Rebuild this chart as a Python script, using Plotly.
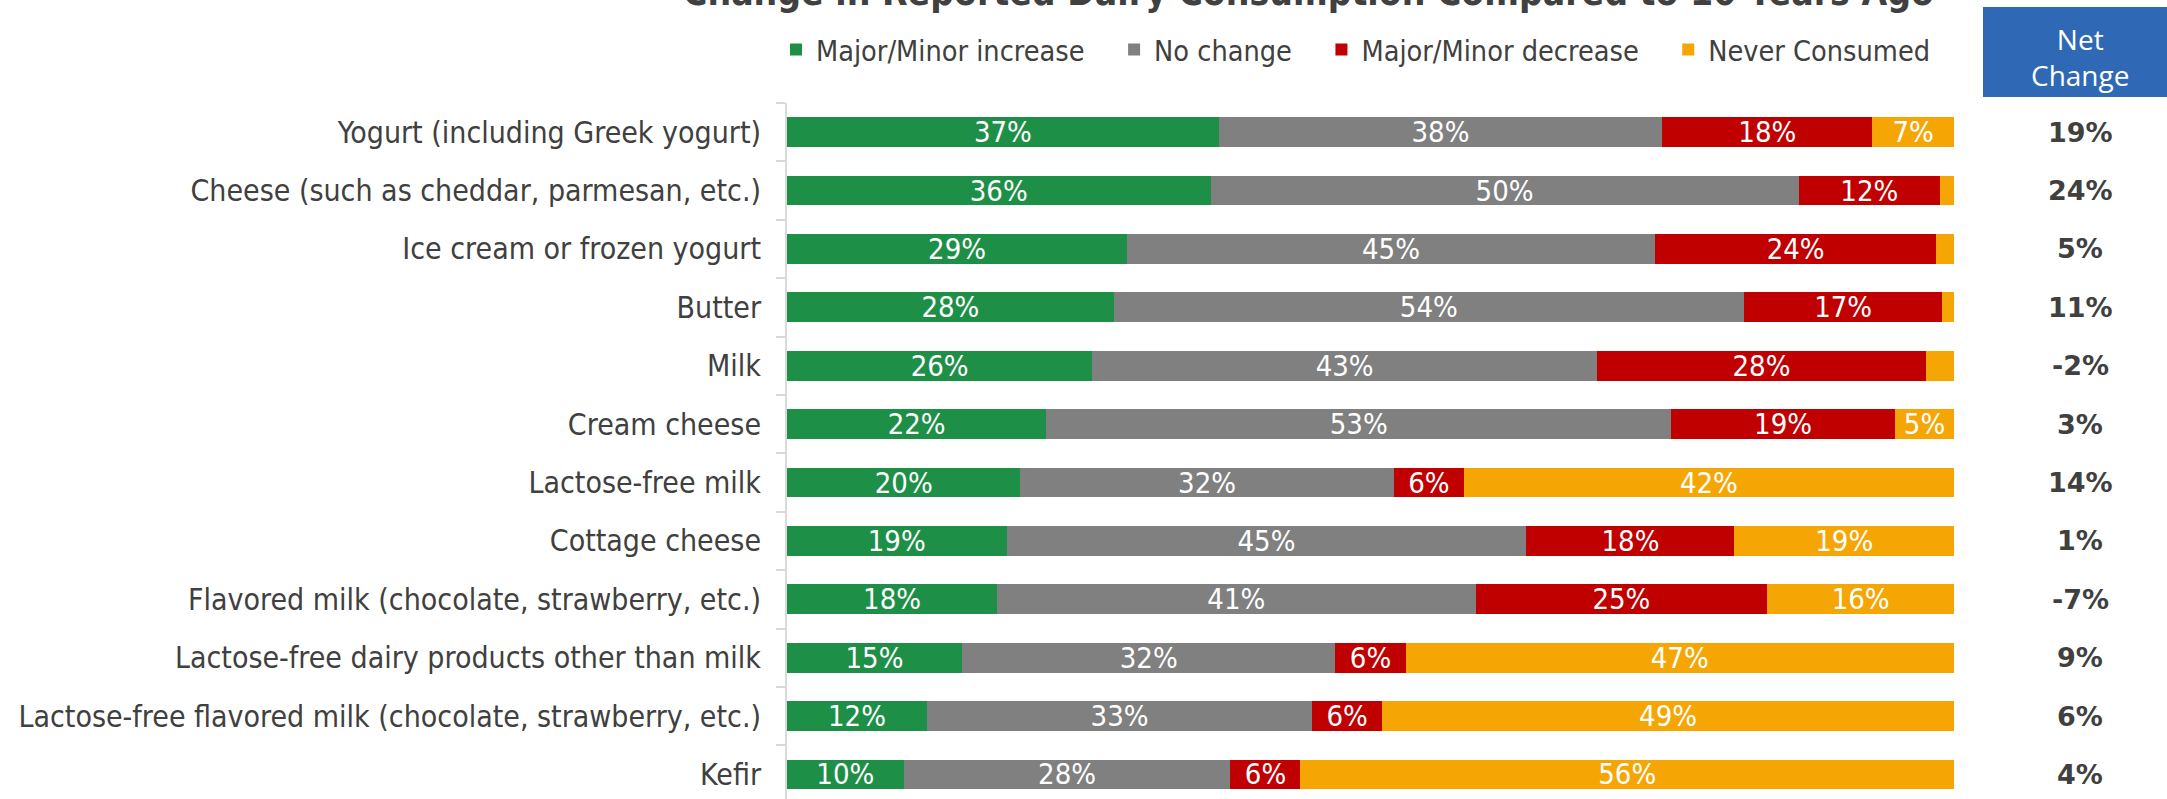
import plotly.graph_objects as go

categories = [
    "Yogurt (including Greek yogurt)",
    "Cheese (such as cheddar, parmesan, etc.)",
    "Ice cream or frozen yogurt",
    "Butter",
    "Milk",
    "Cream cheese",
    "Lactose-free milk",
    "Cottage cheese",
    "Flavored milk (chocolate, strawberry, etc.)",
    "Lactose-free dairy products other than milk",
    "Lactose-free flavored milk (chocolate, strawberry, etc.)",
    "Kefir",
]

increase = [37, 36, 29, 28, 26, 22, 20, 19, 18, 15, 12, 10]
no_change = [38, 50, 45, 54, 43, 53, 32, 45, 41, 32, 33, 28]
decrease = [18, 12, 24, 17, 28, 19, 6, 18, 25, 6, 6, 6]
never = [7, 1.2, 1.5, 1, 2.4, 5, 42, 19, 16, 47, 49, 56]
# small slivers are left unlabeled
never_labels = ["7%", "", "", "", "", "5%", "42%", "19%", "16%", "47%", "49%", "56%"]

net_change = ["19%", "24%", "5%", "11%", "-2%", "3%", "14%", "1%", "-7%", "9%", "6%", "4%"]

series_names = ["Major/Minor increase", "No change", "Major/Minor decrease", "Never Consumed"]
series_colors = ["#1E8F47", "#808080", "#C00000", "#F5A605"]

NARROW = "Liberation Sans Narrow, Arial Narrow, DejaVu Sans Condensed, sans-serif"
TEXT_GREY = "#404040"

W, H = 2167, 799
ML, MR, MT, MB = 787, 213, 103, 0
plot_w = W - ML - MR
plot_h = H - MT - MB

fig = go.Figure()
series_values = [increase, no_change, decrease, never]
for i, (name, vals, col) in enumerate(zip(series_names, series_values, series_colors)):
    labels = never_labels if i == 3 else [f"{v:g}%" for v in vals]
    fig.add_trace(go.Bar(
        y=categories,
        x=vals,
        name=name + "\u00a0\u00a0\u00a0",
        orientation="h",
        marker=dict(color=col, line=dict(width=0)),
        text=labels,
        textposition="inside",
        insidetextanchor="middle",
        textfont=dict(family=NARROW, size=29, color="white"),
        hoverinfo="skip",
    ))

# net change column to the right of the bars
for cat, nc in zip(categories, net_change):
    fig.add_annotation(
        x=1.108, xref="paper", y=cat, yref="y",
        text=f"<b>{nc}</b>", showarrow=False,
        font=dict(family="DejaVu Sans, Verdana, sans-serif", size=27, color=TEXT_GREY),
        xanchor="center", yanchor="middle",
    )

def py(px):
    """pixel row from top of page -> paper y"""
    return 1 + (MT - px) / plot_h

def pxx(px):
    return (px - ML) / plot_w

# header box above the net change column
fig.add_shape(type="rect", xref="paper", yref="paper",
              x0=pxx(1983), x1=pxx(2175), y0=py(97), y1=py(7),
              fillcolor="#2F69B5", line=dict(width=0), layer="above")
fig.add_annotation(x=pxx(2080), xref="paper", y=py(57), yref="paper",
                   text="Net<br>Change", showarrow=False,
                   font=dict(family="Open Sans, DejaVu Sans, sans-serif", size=28, color="white"),
                   xanchor="center", yanchor="middle", align="center")

# title, partly clipped by the top edge
fig.add_annotation(x=pxx(1308), xref="paper", y=py(16), yref="paper",
                   text="<b>Change in Reported Dairy Consumption Compared to 10 Years Ago</b>",
                   showarrow=False,
                   font=dict(family=NARROW, size=37, color=TEXT_GREY),
                   xanchor="center", yanchor="bottom")

fig.update_layout(
    width=W, height=H,
    margin=dict(l=ML, r=MR, t=MT, b=MB, pad=0),
    barmode="stack",
    barnorm="percent",
    bargap=0.49,
    plot_bgcolor="white",
    paper_bgcolor="white",
    uniformtext=dict(minsize=29, mode="show"),
    showlegend=True,
    legend=dict(
        orientation="h",
        x=pxx(776), xanchor="left",
        y=py(50), yanchor="middle",
        font=dict(family=NARROW, size=28.6, color=TEXT_GREY),
        traceorder="normal",
        itemwidth=30,
        bgcolor="rgba(0,0,0,0)",
    ),
    xaxis=dict(
        range=[0, 100],
        visible=False,
        fixedrange=True,
    ),
    yaxis=dict(
        autorange=False,
        range=[11.42, -0.5],
        type="category",
        showline=True,
        linecolor="#D9D9D9",
        linewidth=2,
        ticks="outside",
        tickson="boundaries",
        ticklen=9,
        tickcolor="#D9D9D9",
        tickwidth=2,
        ticklabelstandoff=18,
        tickfont=dict(family=NARROW, size=30, color=TEXT_GREY),
        showgrid=False,
    ),
)

fig.write_html("out.html")
